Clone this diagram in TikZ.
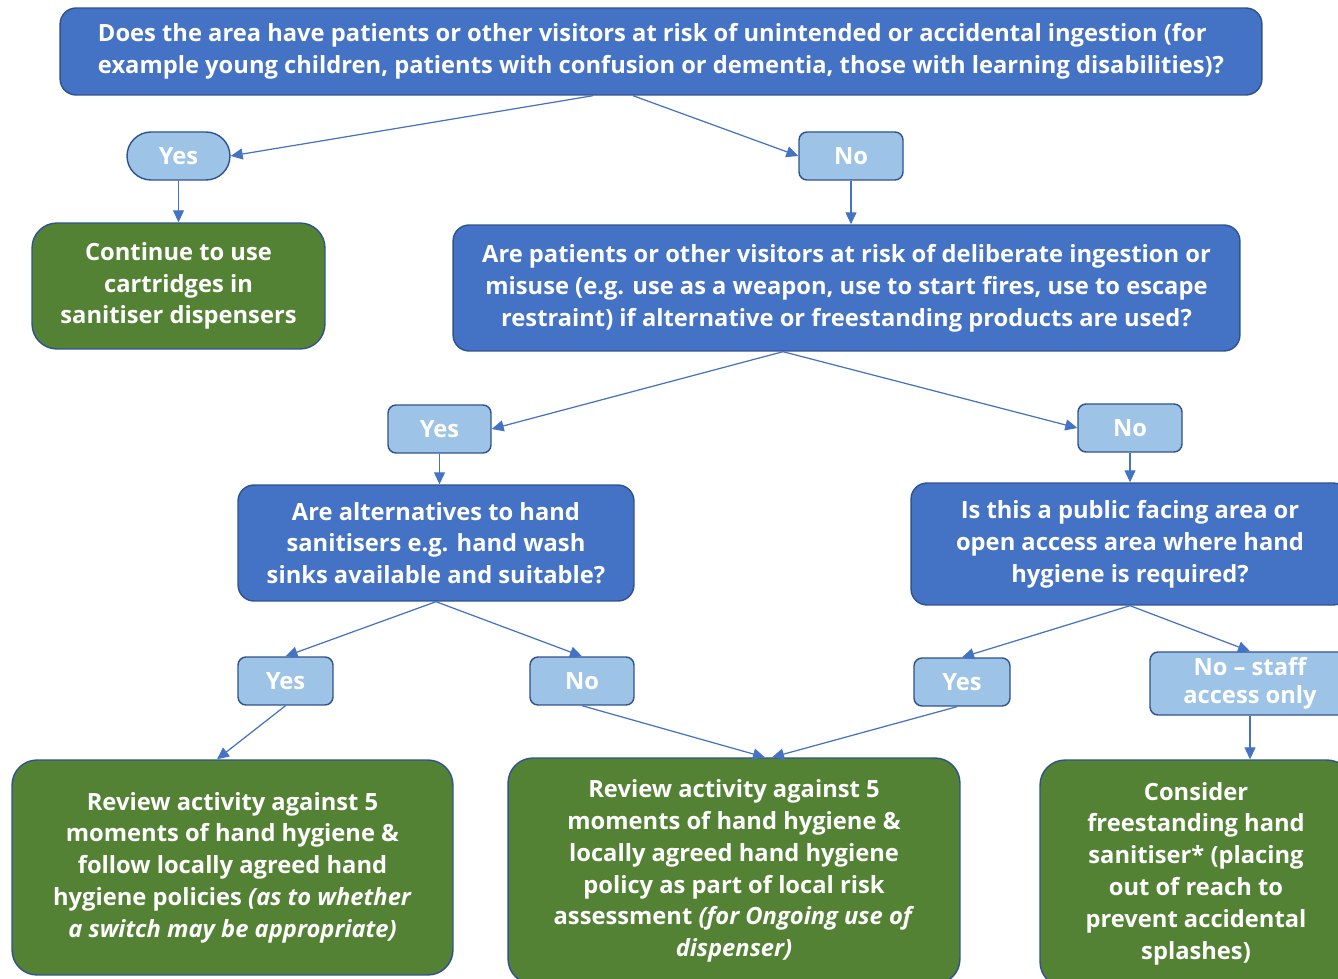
\documentclass[tikz,border=0pt]{standalone}
\usepackage{fontspec}
\setmainfont{Open Sans}
\usetikzlibrary{arrows.meta}

\definecolor{qblue}{HTML}{4472C4}
\definecolor{ablue}{HTML}{9DC3E6}
\definecolor{agreen}{HTML}{548235}
\definecolor{edge}{HTML}{2F528F}

\begin{document}
\begin{tikzpicture}[x=0.02cm,y=-0.02cm,
  question/.style={draw=edge,fill=qblue,thick,rounded corners=0.32cm,text=white,
    font=\bfseries\fontsize{13.5}{18.1}\selectfont,align=center,inner sep=2pt},
  answer/.style={draw=edge,fill=ablue,thick,rounded corners=0.16cm,text=white,
    font=\bfseries\fontsize{13.5}{15.8}\selectfont,align=center,inner sep=1pt,
    minimum height=0.96cm},
  action/.style={draw=edge,fill=agreen,thick,rounded corners=0.5cm,text=white,
    font=\bfseries\fontsize{13.5}{18.1}\selectfont,align=center,inner sep=2pt},
  link/.style={draw=qblue,line width=0.7pt,-{Triangle[length=2.4mm,width=2.2mm]}}]
\useasboundingbox (0,0) rectangle (1338,979);
\clip (0,0) rectangle (1338,979);

% questions
\node[question,align=left,minimum width=24.04cm,minimum height=1.74cm] (q1) at (661,51.5)
  {Does the area have patients or other visitors at risk of unintended or accidental ingestion (for\\
   example young children, patients with confusion or dementia, those with learning disabilities)?};
\node[question,minimum width=15.74cm,minimum height=2.52cm] (q2) at (846.5,288)
  {Are patients or other visitors at risk of deliberate ingestion or\\
   misuse (e.g. use as a weapon, use to start fires, use to escape\\
   restraint) if alternative or freestanding products are used?};
\node[question,minimum width=7.92cm,minimum height=2.32cm] (q3) at (436,543)
  {Are alternatives to hand\\ sanitisers e.g. hand wash\\ sinks available and suitable?};
\node[question,minimum width=8.76cm,minimum height=2.44cm] (q4) at (1130,544)
  {Is this a public facing area or\\ open access area where hand\\ hygiene is required?};

% answers
\node[answer,minimum width=2.06cm,rounded corners=0.48cm] (y1) at (178.5,156) {Yes};
\node[answer,minimum width=2.08cm] (n1) at (851,156) {No};
\node[answer,minimum width=2.06cm] (y2) at (439.5,429) {Yes};
\node[answer,minimum width=2.08cm] (n2) at (1130,428) {No};
\node[answer,minimum width=1.9cm] (y3) at (285.5,681) {Yes};
\node[answer,minimum width=2.08cm] (n3) at (582,681) {No};
\node[answer,minimum width=1.92cm] (y4) at (962,682) {Yes};
\node[answer,minimum width=4.0cm,minimum height=1.26cm] (n4) at (1250,683.5)
  {No -- staff\\ access only};

% actions
\node[action,minimum width=5.86cm,minimum height=2.52cm] (a1) at (178.5,286)
  {Continue to use\\ cartridges in\\ sanitiser dispensers};
\node[action,minimum width=8.82cm,minimum height=4.3cm] (a2) at (232.5,867.5)
  {Review activity against 5\\ moments of hand hygiene \&\\ follow locally agreed hand\\
   hygiene policies \textit{(as to whether}\\ \textit{a switch may be appropriate)}};
\node[action,minimum width=9.04cm,minimum height=4.52cm] (a3) at (734,871)
  {Review activity against 5\\ moments of hand hygiene \&\\ locally agreed hand hygiene\\
   policy as part of local risk\\ assessment \textit{(for Ongoing use of}\\ \textit{dispenser)}};
\node[action,minimum width=6.24cm,minimum height=4.54cm] (a4) at (1196,873.5)
  {Consider\\ freestanding hand\\ sanitiser* (placing\\ out of reach to\\
   prevent accidental\\ splashes)};

% connectors
\draw[link] ([xshift=-1.36cm]q1.south) -- (y1.east);
\draw[link] ([xshift=-0.56cm]q1.south) -- (n1.west);
\draw[link] (y1.south) -- (a1.north);
\draw[link] (n1.south) -- (n1.south |- q2.north);
\draw[link] ([xshift=-1.27cm]q2.south) -- (y2.east);
\draw[link] ([xshift=-1.27cm]q2.south) -- (n2.west);
\draw[link] (y2.south) -- (y2.south |- q3.north);
\draw[link] (n2.south) -- (q4.north);
\draw[link] (q3.south) -- (y3.north);
\draw[link] (q3.south) -- (n3.north);
\draw[link] (q4.south) -- (y4.north);
\draw[link] (q4.south) -- (n4.north);
\draw[link] (y3.south) -- ([xshift=-0.31cm]a2.north);
\draw[link] (n3.south) -- ([xshift=0.62cm]a3.north);
\draw[link] ([xshift=-0.1cm]y4.south) -- ([xshift=0.76cm]a3.north);
\draw[link] (n4.south) -- (n4.south |- a4.north);
\end{tikzpicture}
\end{document}
